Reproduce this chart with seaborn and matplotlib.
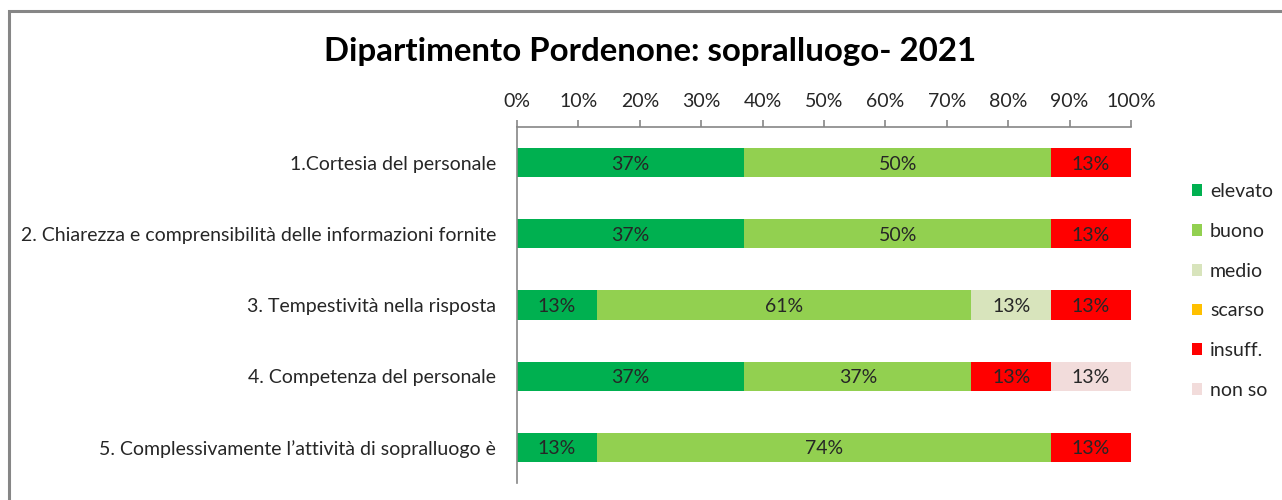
import pandas as pd
import numpy as np
import matplotlib.pyplot as plt
import seaborn as sns
from matplotlib.patches import Patch, Rectangle

questions = [
    '1.Cortesia del personale',
    '2. Chiarezza e comprensibilità delle informazioni fornite',
    '3. Tempestività nella risposta',
    '4. Competenza del personale',
    '5. Complessivamente l\u2019attività di sopralluogo è',
]
levels = ['elevato', 'buono', 'medio', 'scarso', 'insuff.', 'non so']
elevato = [37, 37, 13, 37, 13]
buono = [50, 50, 61, 37, 74]
medio = [0, 0, 13, 0, 0]
scarso = [0, 0, 0, 0, 0]
insuff = [13, 13, 13, 13, 13]
non_so = [0, 0, 0, 13, 0]
colors = ['#00B050', '#92D050', '#D8E4BC', '#FFC000', '#FF0000', '#F2DCDB']
x_ticks = [0, 10, 20, 30, 40, 50, 60, 70, 80, 90, 100]

sns.set_style('white')
plt.rcParams['font.family'] = ['Lato', 'DejaVu Sans']

df = pd.DataFrame({'domanda': questions, 'elevato': elevato, 'buono': buono,
                   'medio': medio, 'scarso': scarso, 'insuff.': insuff,
                   'non so': non_so})
cum = df[levels].cumsum(axis=1)

fig = plt.figure(figsize=(12.82, 5), dpi=100)
ax = fig.add_axes([517 / 1282, 1 - 483 / 500, (1131 - 517) / 1282, (483 - 127) / 500])

# stacked bars: draw cumulative totals from the last level backwards
for lev, col in zip(levels[::-1], colors[::-1]):
    sns.barplot(x=cum[lev], y=df['domanda'], orient='h', color=col,
                width=0.41, ax=ax, saturation=1, linewidth=0)

# labels in the middle of each segment
for i in range(len(df)):
    for lev in levels:
        v = df.loc[i, lev]
        if v > 0:
            ax.text(cum.loc[i, lev] - v / 2, i + 0.02, f'{v}%', ha='center', va='center',
                    fontsize=14, color='#262626')

ax.set_xlim(0, 100)
ax.set_ylim(len(df) - 0.5, -0.5)
ax.xaxis.tick_top()
ax.set_xticks(x_ticks)
ax.set_xticklabels([f'{t}%' for t in x_ticks])
ax.set_xlabel('')
ax.set_ylabel('')
ax.set_yticks(range(len(df)))
ax.set_yticklabels(questions)
ax.tick_params(axis='y', length=0, pad=15, labelsize=14, labelcolor='#262626')
ax.tick_params(axis='x', direction='out', length=5, color='#868686', width=1.2,
               pad=7, labelsize=14, labelcolor='#262626')
ax.set_yticks(np.arange(-0.5, len(df), 1), minor=True)
ax.tick_params(axis='y', which='minor', length=5, color='#868686', width=1.2,
               direction='out')
for s in ['right', 'bottom']:
    ax.spines[s].set_visible(False)
for s in ['left', 'top']:
    ax.spines[s].set_color('#868686')
    ax.spines[s].set_linewidth(1.2)

fig.text(650 / 1282, 1 - 51 / 500, 'Dipartimento Pordenone: sopralluogo- 2021',
         ha='center', va='center', fontsize=23.8, fontweight='bold', color='black')

handles = [Patch(facecolor=c, edgecolor='none', label=l) for l, c in zip(levels, colors)]
fig.legend(handles=handles, loc='center left',
           bbox_to_anchor=(1174 / 1282, 1 - 291 / 500), frameon=False,
           fontsize=14, handlelength=0.55, handleheight=0.55,
           handletextpad=0.4, labelspacing=1.17, labelcolor='#262626')

fig.patches.append(Rectangle((9 / 1282, -0.1), 1.2, 1 - 11 / 500 + 0.1,
                             transform=fig.transFigure, fill=False,
                             edgecolor='#868686', linewidth=2.2))

fig.savefig('out.png', dpi=100)
